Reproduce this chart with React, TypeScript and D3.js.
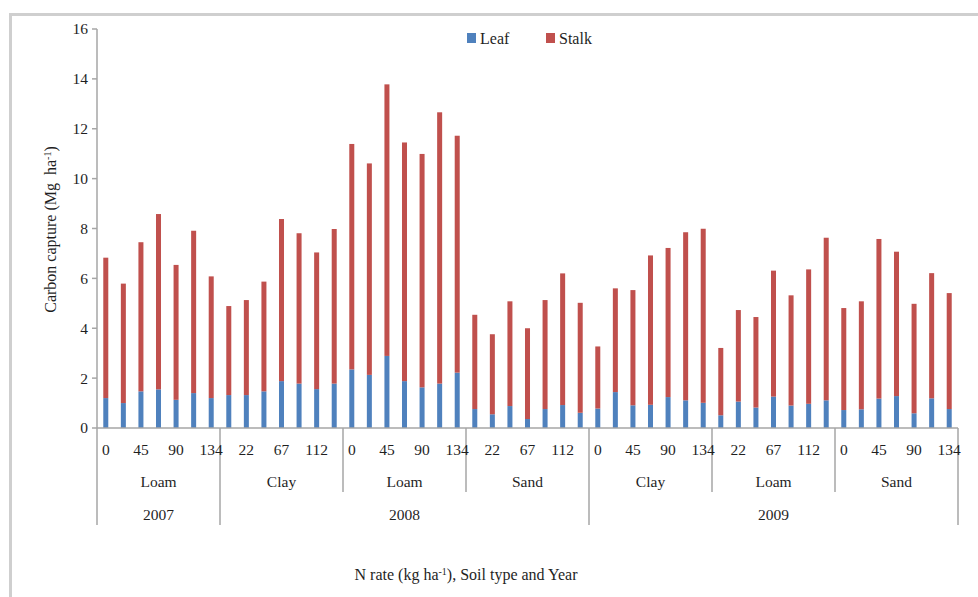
import React from "react";
import * as d3 from "d3";

const nRates = ["0", "22", "45", "67", "90", "112", "134"];
const soils = ["Loam", "Clay", "Loam", "Sand", "Clay", "Loam", "Sand"];
const years = ["2007", "2008", "2009"];
const yearGroups = [1, 3, 3]; // number of soil groups per year
const seriesNames = ["Leaf", "Stalk"];
const seriesColors = ["#4F81BD", "#C0504D"];

const leaf = [
  1.2, 1.0, 1.47, 1.55, 1.13, 1.4, 1.2,
  1.32, 1.32, 1.47, 1.88, 1.78, 1.56, 1.78,
  2.35, 2.13, 2.89, 1.88, 1.63, 1.78, 2.22,
  0.76, 0.55, 0.88, 0.36, 0.76, 0.92, 0.61,
  0.78, 1.44, 0.91, 0.93, 1.24, 1.11, 1.01,
  0.51, 1.06, 0.82, 1.26, 0.9, 0.97, 1.11,
  0.72, 0.75, 1.18, 1.28, 0.59, 1.19, 0.76,
];
const stalk = [
  5.63, 4.79, 5.98, 7.03, 5.41, 6.51, 4.88,
  3.57, 3.81, 4.4, 6.5, 6.03, 5.48, 6.2,
  9.04, 8.48, 10.89, 9.57, 9.36, 10.88, 9.5,
  3.78, 3.21, 4.2, 3.64, 4.37, 5.28, 4.41,
  2.49, 4.16, 4.62, 5.99, 5.98, 6.74, 6.98,
  2.7, 3.67, 3.63, 5.05, 4.42, 5.39, 6.52,
  4.09, 4.33, 6.4, 5.79, 4.39, 5.02, 4.65,
];
const yTicks = [0, 2, 4, 6, 8, 10, 12, 14, 16];

const W = 978;
const H = 597;
const left = 97;
const right = 958;
const top = 29;
const base = 428;
const font = "'Liberation Serif', 'Times New Roman', serif";
const axisColor = "#a6a6a6";
const textColor = "#1f1f1f";
const fs = 15.5;
const fsTitle = 16;

export default function App() {
  const n = leaf.length;
  const rows = d3.range(n).map((i) => ({ i, Leaf: leaf[i], Stalk: stalk[i] }));
  const stacked = d3.stack<any>().keys(seriesNames)(rows);
  const x = d3
    .scaleBand<number>()
    .domain(d3.range(n))
    .range([left, right])
    .paddingInner(0.715)
    .paddingOuter(0.3575);
  const y = d3.scaleLinear().domain([0, 16]).range([base, top]);
  const step = x.step();
  const groupSize = nRates.length;
  const groupEdge = (g: number) => x(g * groupSize)! - (step - x.bandwidth()) / 2;
  const edges = d3.range(soils.length + 1).map((g) => (g === soils.length ? right : groupEdge(g)));
  const yearStarts = [0];
  yearGroups.forEach((c) => yearStarts.push(yearStarts[yearStarts.length - 1] + c));

  return (
    <svg
      width={W}
      height={H}
      style={{ position: "absolute", left: 0, top: 0, background: "#fff" }}
      fontFamily={font}
    >
      {/* outer frame */}
      <line x1={10} x2={W + 5} y1={14.5} y2={14.5} stroke="#cfcfcf" strokeWidth={3} />
      <line x1={10.5} x2={10.5} y1={13} y2={H + 5} stroke="#cfcfcf" strokeWidth={3} />

      {/* legend */}
      {seriesNames.map((s, k) => {
        const lx = 467 + k * 79;
        return (
          <g key={s}>
            <rect x={lx} y={33} width={9} height={10} fill={seriesColors[k]} />
            <text x={lx + 13} y={43.5} fontSize={fsTitle} fill={textColor}>
              {s}
            </text>
          </g>
        );
      })}

      {/* bars */}
      {stacked.map((layer, k) => (
        <g key={layer.key} fill={seriesColors[k]}>
          {layer.map((d, i) => (
            <rect
              key={i}
              x={x(i)}
              width={x.bandwidth()}
              y={y(d[1])}
              height={y(d[0]) - y(d[1])}
            />
          ))}
        </g>
      ))}

      {/* y axis */}
      <line x1={left} x2={left} y1={top} y2={base} stroke={axisColor} strokeWidth={1.5} />
      {yTicks.map((t) => (
        <g key={t}>
          <line x1={left - 5} x2={left} y1={y(t)} y2={y(t)} stroke={axisColor} strokeWidth={1.5} />
          <text x={left - 9} y={y(t)} dy="0.35em" textAnchor="end" fontSize={fs} fill={textColor}>
            {t}
          </text>
        </g>
      ))}
      <text
        transform={`translate(56,${(top + base) / 2 + 1}) rotate(-90)`}
        textAnchor="middle"
        fontSize={fsTitle}
        fill={textColor}
        style={{ whiteSpace: "pre" }}
      >
        {"Carbon capture (Mg  ha"}
        <tspan dy={-5.5} fontSize={10}>-1</tspan>
        <tspan dy={5.5}>)</tspan>
      </text>

      {/* x axis */}
      <line x1={left} x2={right} y1={base} y2={base} stroke={axisColor} strokeWidth={1.5} />
      {edges.map((e, g) => {
        const isYear = yearStarts.includes(g);
        return (
          <line
            key={g}
            x1={e}
            x2={e}
            y1={base}
            y2={isYear ? 525 : 492}
            stroke={axisColor}
            strokeWidth={1.5}
          />
        );
      })}
      {d3.range(0, n, 2).map((i) => (
        <text
          key={i}
          x={x(i)! + x.bandwidth() / 2}
          y={450}
          dy="0.35em"
          textAnchor="middle"
          fontSize={fs}
          fill={textColor}
        >
          {nRates[i % groupSize]}
        </text>
      ))}
      {soils.map((s, g) => (
        <text
          key={g}
          x={(edges[g] + edges[g + 1]) / 2}
          y={482}
          dy="0.35em"
          textAnchor="middle"
          fontSize={fs}
          fill={textColor}
        >
          {s}
        </text>
      ))}
      {years.map((yr, k) => (
        <text
          key={yr}
          x={(edges[yearStarts[k]] + edges[yearStarts[k + 1]]) / 2}
          y={515}
          dy="0.35em"
          textAnchor="middle"
          fontSize={fs}
          fill={textColor}
        >
          {yr}
        </text>
      ))}
      <text x={466} y={580} textAnchor="middle" fontSize={fsTitle} fill={textColor}>
        N rate (kg ha<tspan dy={-5.5} fontSize={10}>-1</tspan>
        <tspan dy={5.5}>), Soil type and Year</tspan>
      </text>
    </svg>
  );
}
